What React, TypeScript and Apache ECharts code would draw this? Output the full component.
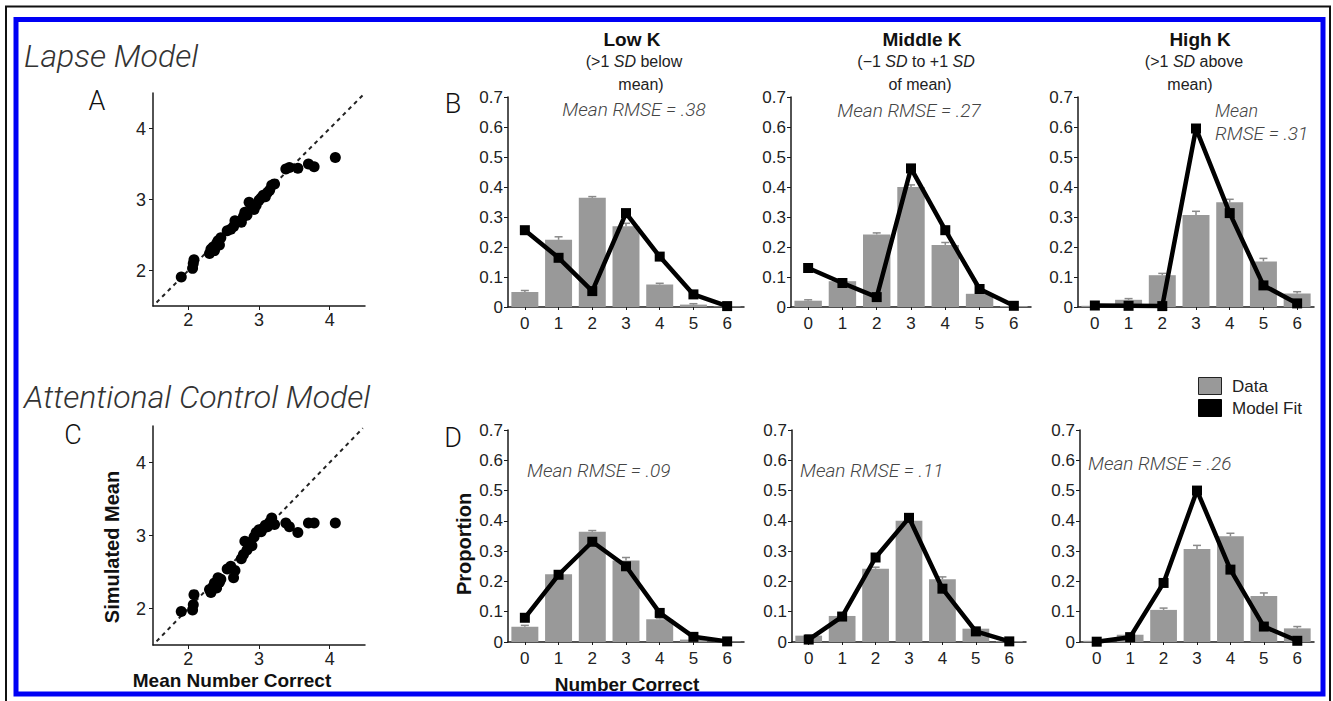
import React, { useEffect, useRef } from 'react';
import * as echarts from 'echarts';

// ---------- data ----------
const categories = ['0', '1', '2', '3', '4', '5', '6'];
const scatterTicks = [2, 3, 4];

// observed proportions (same data in both rows)
const lowData = [0.05, 0.224, 0.364, 0.269, 0.075, 0.008, 0.002];
const midData = [0.021, 0.086, 0.242, 0.4, 0.207, 0.044, 0.003];
const highData = [0.004, 0.024, 0.106, 0.307, 0.349, 0.152, 0.045];
const lowErr = [0.005, 0.01, 0.004, 0.01, 0.004, 0.003, 0];
const midErr = [0.003, 0.004, 0.005, 0.007, 0.008, 0.004, 0];
const highErr = [0.002, 0.004, 0.006, 0.012, 0.01, 0.01, 0.006];

// lapse model fits
const lapseLow = [0.256, 0.164, 0.053, 0.313, 0.168, 0.042, 0.003];
const lapseMid = [0.13, 0.08, 0.033, 0.462, 0.256, 0.06, 0.004];
const lapseHigh = [0.005, 0.004, 0.003, 0.595, 0.313, 0.072, 0.012];

// attentional control model fits
const attnLow = [0.08, 0.222, 0.331, 0.25, 0.096, 0.017, 0.002];
const attnMid = [0.008, 0.084, 0.279, 0.41, 0.176, 0.035, 0.002];
const attnHigh = [0.001, 0.016, 0.195, 0.5, 0.239, 0.051, 0.004];

// scatter: observed mean number correct vs simulated mean
const meanCorrect = [1.9, 2.06, 2.07, 2.08, 2.3, 2.32, 2.35, 2.37, 2.4, 2.42, 2.44, 2.46, 2.55, 2.6, 2.64, 2.66, 2.75, 2.78, 2.8, 2.83, 2.86, 2.9, 2.93, 2.96, 3.0, 3.03, 3.06, 3.09, 3.12, 3.15, 3.18, 3.22, 3.38, 3.43, 3.55, 3.7, 3.78, 4.08];
const lapseSim = [1.91, 2.03, 2.1, 2.15, 2.24, 2.3, 2.33, 2.28, 2.38, 2.42, 2.36, 2.46, 2.56, 2.58, 2.62, 2.7, 2.68, 2.76, 2.82, 2.78, 2.96, 2.9, 2.86, 2.92, 2.99, 3.02, 3.06, 3.04, 3.1, 3.13, 3.2, 3.22, 3.43, 3.45, 3.44, 3.5, 3.46, 3.59];
const attnSim = [1.96, 1.98, 2.05, 2.19, 2.26, 2.22, 2.3, 2.35, 2.28, 2.42, 2.36, 2.4, 2.54, 2.58, 2.42, 2.52, 2.68, 2.74, 2.92, 2.8, 2.9, 2.86, 2.98, 3.04, 3.08, 3.05, 3.1, 3.14, 3.12, 3.18, 3.24, 3.15, 3.17, 3.12, 3.04, 3.17, 3.17, 3.17];
const identityLine = [[1.55, 1.55], [4.47, 4.47]];

const rmseLapse = ['.38', '.27', '.31'];
const rmseAttn = ['.09', '.11', '.26'];

// ---------- styling ----------
const SANS = "'Liberation Sans', Arial, Helvetica, sans-serif";
const LIGHT = "Roboto, 'Liberation Sans', Arial, sans-serif";
const INK = '#1a1a1a';
const BAR = '#999999';

function buildOption() {
  const grids = [
    { left: 153, top: 93, width: 212, height: 213 },
    { left: 153, top: 426, width: 212, height: 219 },
    { left: 508, top: 97, width: 236, height: 210 },
    { left: 791, top: 97, width: 240, height: 210 },
    { left: 1078, top: 97, width: 236, height: 210 },
    { left: 508, top: 430, width: 236, height: 212 },
    { left: 792, top: 430, width: 234, height: 212 },
    { left: 1080, top: 430, width: 234, height: 212 },
  ];

  const axisLine = { show: true, lineStyle: { color: INK, width: 1.5 } };
  const xAxis: any[] = [];
  const yAxis: any[] = [];

  for (let i = 0; i < 2; i++) {
    xAxis.push({
      type: 'value', gridIndex: i, min: 1.5, max: 4.5,
      axisLine, splitLine: { show: false },
      axisTick: { show: true, length: 4, customValues: scatterTicks, lineStyle: { color: INK } },
      axisLabel: { customValues: scatterTicks, fontFamily: SANS, fontSize: 18, color: '#222', margin: 5 },
    });
    yAxis.push({
      type: 'value', gridIndex: i, min: 1.5, max: 4.5,
      axisLine, splitLine: { show: false },
      axisTick: { show: true, length: 4, customValues: scatterTicks, lineStyle: { color: INK } },
      axisLabel: { customValues: scatterTicks, fontFamily: SANS, fontSize: 18, color: '#222', margin: 7 },
    });
  }
  for (let i = 2; i < 8; i++) {
    xAxis.push({
      type: 'category', gridIndex: i, data: categories, boundaryGap: true,
      axisLine,
      axisTick: { show: true, alignWithLabel: true, length: 3, lineStyle: { color: INK } },
      axisLabel: { fontFamily: SANS, fontSize: 17, color: '#222', margin: 8 },
    });
    yAxis.push({
      type: 'value', gridIndex: i, min: 0, max: 0.7, interval: 0.1,
      axisLine, splitLine: { show: false },
      axisTick: { show: true, length: 4, lineStyle: { color: INK } },
      axisLabel: {
        fontFamily: SANS, fontSize: 17, color: '#222', margin: 5,
        formatter: (v: number) => (Math.abs(v) < 1e-9 ? '0' : v.toFixed(1)),
      },
    });
  }

  const series: any[] = [];
  const sims = [lapseSim, attnSim];
  sims.forEach((sim, i) => {
    series.push({
      type: 'line', xAxisIndex: i, yAxisIndex: i, data: identityLine,
      symbol: 'none', lineStyle: { color: '#222', width: 2, type: [4, 4] }, silent: true, z: 1,
    });
    series.push({
      type: 'scatter', xAxisIndex: i, yAxisIndex: i,
      data: meanCorrect.map((x, k) => [x, sim[k]]),
      symbolSize: 11, itemStyle: { color: '#000', opacity: 1 }, z: 3,
    });
  });

  const dataSets = [lowData, midData, highData];
  const errSets = [lowErr, midErr, highErr];
  const fits = [lapseLow, lapseMid, lapseHigh, attnLow, attnMid, attnHigh];
  for (let p = 0; p < 6; p++) {
    const ax = p + 2;
    const d = dataSets[p % 3];
    const e = errSets[p % 3];
    series.push({
      type: 'bar', xAxisIndex: ax, yAxisIndex: ax, data: d,
      barCategoryGap: '20%', itemStyle: { color: BAR }, z: 2, name: 'Data',
    });
    series.push({
      type: 'custom', xAxisIndex: ax, yAxisIndex: ax,
      data: d.map((v, k) => [k, v, e[k]]),
      z: 3,
      renderItem: (params: any, api: any) => {
        const x = api.value(0);
        const y = api.value(1);
        const er = api.value(2);
        if (!er) return null;
        const top = api.coord([x, y + er]);
        const base = api.coord([x, y]);
        return {
          type: 'group',
          children: [
            { type: 'line', shape: { x1: top[0], y1: top[1], x2: base[0], y2: base[1] }, style: { stroke: '#8a8a8a', lineWidth: 1.5 } },
            { type: 'line', shape: { x1: top[0] - 4, y1: top[1], x2: top[0] + 4, y2: top[1] }, style: { stroke: '#8a8a8a', lineWidth: 1.5 } },
          ],
        };
      },
    });
    series.push({
      type: 'line', xAxisIndex: ax, yAxisIndex: ax, data: fits[p], name: 'Model Fit',
      symbol: 'rect', symbolSize: 10, showSymbol: true,
      lineStyle: { color: '#000', width: 4.5 }, itemStyle: { color: '#000' }, z: 4,
    });
  }

  const t = (text: string, x: number, y: number, extra: any = {}) => ({
    type: 'text', x, y, z: 10,
    style: {
      text, fontFamily: SANS, fontSize: 16, fill: '#222',
      align: 'center', verticalAlign: 'middle', ...extra,
    },
  });
  const rich = { i: { fontStyle: 'italic', fontFamily: SANS, fontSize: 16, fill: '#222' } };
  const lightItalic = { fontFamily: LIGHT, fontStyle: 'italic', fontWeight: 300 };

  const graphic: any[] = [
    { type: 'polyline', z: 20, shape: { points: [[6, 701], [6, 6.5], [1330, 6.5], [1330, 701]] }, style: { stroke: '#111', lineWidth: 2, fill: 'none' } },
    { type: 'rect', z: 20, shape: { x: 16, y: 19.5, width: 1307, height: 674.5 }, style: { stroke: '#0000f5', lineWidth: 5, fill: 'none' } },

    t('Lapse Model', 24, 56, { ...lightItalic, fontSize: 32, fill: '#333', align: 'left' }),
    t('Attentional Control Model', 24, 397, { ...lightItalic, fontSize: 32, fill: '#333', align: 'left' }),
    t('A', 97, 101, { fontFamily: LIGHT, fontWeight: 300, fontSize: 27, fill: '#111' }),
    t('B', 453, 104, { fontFamily: LIGHT, fontWeight: 300, fontSize: 27, fill: '#111' }),
    t('C', 73, 435, { fontFamily: LIGHT, fontWeight: 300, fontSize: 27, fill: '#111' }),
    t('D', 453, 438, { fontFamily: LIGHT, fontWeight: 300, fontSize: 27, fill: '#111' }),

    t('Low K', 632, 39, { fontWeight: 'bold', fontSize: 19, fill: '#111' }),
    t('(>1 {i|SD} below', 634, 61, { rich }),
    t('mean)', 641, 84),
    t('Middle K', 922, 39, { fontWeight: 'bold', fontSize: 19, fill: '#111' }),
    t('(\u22121 {i|SD} to +1 {i|SD}', 916, 61, { rich }),
    t('of mean)', 920, 84),
    t('High K', 1200, 39, { fontWeight: 'bold', fontSize: 19, fill: '#111' }),
    t('(>1 {i|SD} above', 1194, 61, { rich }),
    t('mean)', 1190, 84),

    t('Mean RMSE = ' + rmseLapse[0], 634, 109, { ...lightItalic, fontSize: 19, fill: '#444' }),
    t('Mean RMSE = ' + rmseLapse[1], 909, 110, { ...lightItalic, fontSize: 19, fill: '#444' }),
    t('Mean', 1215, 110, { ...lightItalic, fontSize: 18, fill: '#444', align: 'left' }),
    t('RMSE = ' + rmseLapse[2], 1215, 133, { ...lightItalic, fontSize: 19, fill: '#444', align: 'left' }),
    t('Mean RMSE = ' + rmseAttn[0], 527, 470, { ...lightItalic, fontSize: 19, fill: '#444', align: 'left' }),
    t('Mean RMSE = ' + rmseAttn[1], 800, 470, { ...lightItalic, fontSize: 19, fill: '#444', align: 'left' }),
    t('Mean RMSE = ' + rmseAttn[2], 1088, 463, { ...lightItalic, fontSize: 19, fill: '#444', align: 'left' }),

    { ...t('Simulated Mean', 112, 547, { fontWeight: 'bold', fontSize: 20, fill: '#111' }), rotation: Math.PI / 2 },
    t('Mean Number Correct', 232, 680, { fontWeight: 'bold', fontSize: 19, fill: '#111' }),
    { ...t('Proportion', 464, 544, { fontWeight: 'bold', fontSize: 20, fill: '#111' }), rotation: Math.PI / 2 },
    t('Number Correct', 627, 684, { fontWeight: 'bold', fontSize: 19, fill: '#111' }),

    { type: 'rect', z: 10, shape: { x: 1198.5, y: 377.5, width: 23, height: 17 }, style: { fill: BAR, stroke: '#222', lineWidth: 1 } },
    { type: 'rect', z: 10, shape: { x: 1198.5, y: 399.5, width: 23, height: 17 }, style: { fill: '#000', stroke: '#000', lineWidth: 1 } },
    t('Data', 1232, 386, { align: 'left', fontSize: 17 }),
    t('Model Fit', 1232, 408, { align: 'left', fontSize: 17 }),
  ];

  return {
    animation: false,
    backgroundColor: '#fff',
    grid: grids.map((g) => ({ ...g, containLabel: false })),
    xAxis,
    yAxis,
    series,
    graphic,
  };
}

export default function App() {
  const ref = useRef<HTMLDivElement>(null);
  useEffect(() => {
    if (!ref.current) return;
    const chart = echarts.init(ref.current, null, { renderer: 'svg', width: 1333, height: 701 });
    chart.setOption(buildOption() as any);
    return () => chart.dispose();
  }, []);
  return (
    <div
      ref={ref}
      style={{ position: 'absolute', left: 0, top: 0, width: 1333, height: 701, background: '#fff' }}
    />
  );
}
